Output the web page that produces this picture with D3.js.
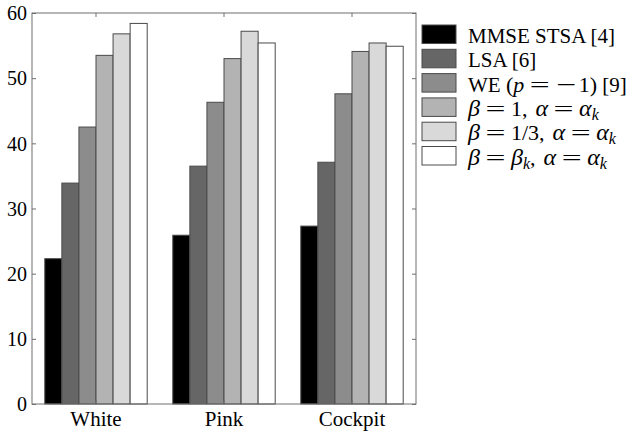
<!DOCTYPE html>
<html>
<head>
<meta charset="utf-8">
<script src="https://cdn.jsdelivr.net/npm/d3@7"></script>
<style>
  body { margin: 0; background: #fff; }
  text { font-family: "Liberation Serif", "Times New Roman", serif; fill: #000; white-space: pre; }
</style>
</head>
<body>
<div id="chart"></div>
<script>
// noise types on the x axis
var categories = ["White", "Pink", "Cockpit"];

// one array per method, values in the order of categories
var series = ["mmse", "lsa", "we", "b1", "b13", "bk"];
var mmse = [22.3, 25.9, 27.3];
var lsa  = [33.9, 36.5, 37.1];
var we   = [42.5, 46.3, 47.6];
var b1   = [53.5, 53.0, 54.1];
var b13  = [56.8, 57.2, 55.4];
var bk   = [58.4, 55.4, 54.9];
var values = [mmse, lsa, we, b1, b13, bk];

var fills = ["#000000", "#666666", "#8c8c8c", "#b3b3b3", "#d9d9d9", "#ffffff"];

// legend labels as [text, kind] pieces:
// "" text, "i" math italic, "g" greek italic, "m" math upright, "c" math comma,
// "o" relation, "u" unary minus, "s" subscript
var legendLabels = [
  [["MMSE STSA [4]", ""]],
  [["LSA [6]", ""]],
  [["WE ", ""], ["(", "m"], ["p", "i"], ["=", "o"], ["\u2212", "u"], ["1)", "m"], [" [9]", ""]],
  [["\u03b2", "g"], ["=", "o"], ["1", "m"], [",", "c"], ["\u03b1", "g"], ["=", "o"], ["\u03b1", "g"], ["k", "s"]],
  [["\u03b2", "g"], ["=", "o"], ["1/3", "m"], [",", "c"], ["\u03b1", "g"], ["=", "o"], ["\u03b1", "g"], ["k", "s"]],
  [["\u03b2", "g"], ["=", "o"], ["\u03b2", "g"], ["k", "s"], [",", "c"], ["\u03b1", "g"], ["=", "o"], ["\u03b1", "g"], ["k", "s"]]
];

var yTicks = [0, 10, 20, 30, 40, 50, 60];

var width = 628, height = 434;
var pLeft = 32, pTop = 13, pRight = 416, pBottom = 404;

var svg = d3.select("#chart").append("svg")
  .attr("width", width)
  .attr("height", height);

var x = d3.scaleBand()
  .domain(categories)
  .range([pLeft, pRight])
  .paddingInner(0.2)
  .paddingOuter(0.1);

var xs = d3.scaleBand()
  .domain(series)
  .range([0, x.bandwidth()]);

var y = d3.scaleLinear()
  .domain([0, 60])
  .range([pBottom, pTop]);

// bars
var groups = svg.append("g").selectAll("g")
  .data(categories)
  .enter()
  .append("g")
  .attr("transform", function(d) { return "translate(" + x(d) + ",0)"; });

groups.selectAll("rect")
  .data(function(d, i) {
    return series.map(function(s, j) { return {s: s, v: values[j][i], j: j}; });
  })
  .enter()
  .append("rect")
  .attr("x", function(d) { return xs(d.s); })
  .attr("y", function(d) { return y(d.v); })
  .attr("width", xs.bandwidth())
  .attr("height", function(d) { return y(0) - y(d.v); })
  .style("fill", function(d) { return fills[d.j]; })
  .style("stroke", "#4a4a4a")
  .style("stroke-width", 1);

// axes, matlab style: box all round, ticks pointing in
var tick = 4;
var axisColor = "#6e6e6e";

var yAxis = svg.append("g")
  .attr("transform", "translate(" + pLeft + ",0)")
  .call(d3.axisLeft(y).tickValues(yTicks).tickSize(-tick).tickPadding(5));
yAxis.selectAll("text").style("font-size", "20px").attr("dy", "0.34em");

var yAxisR = svg.append("g")
  .attr("transform", "translate(" + pRight + ",0)")
  .call(d3.axisRight(y).tickValues(yTicks).tickSize(-tick).tickFormat(""));

var xAxis = svg.append("g")
  .attr("transform", "translate(0," + pBottom + ")")
  .call(d3.axisBottom(x).tickSize(-tick).tickPadding(8));
xAxis.selectAll("text").style("font-size", "21px").attr("dy", "0.67em");

var xAxisT = svg.append("g")
  .attr("transform", "translate(0," + pTop + ")")
  .call(d3.axisTop(x).tickSize(-tick).tickFormat(""));

[yAxis, yAxisR, xAxis, xAxisT].forEach(function(a) {
  a.select(".domain").remove();
  a.selectAll(".tick line").style("stroke", axisColor);
});

svg.append("rect")
  .attr("x", pLeft)
  .attr("y", pTop)
  .attr("width", pRight - pLeft)
  .attr("height", pBottom - pTop)
  .style("fill", "none")
  .style("stroke", axisColor)
  .style("stroke-width", 1);

// legend
var legend = svg.append("g")
  .selectAll("g")
  .data(legendLabels)
  .enter()
  .append("g")
  .attr("transform", function(d, i) { return "translate(422," + (25 + i * 24.3) + ")"; });

legend.append("rect")
  .attr("width", 34)
  .attr("height", 18.5)
  .style("fill", function(d, i) { return fills[i]; })
  .style("stroke", "#4a4a4a")
  .style("stroke-width", 1);

// lay the pieces out one by one so "=" and minus can be made latex-wide
var opW = 20, opPad = 5.5;
var sizes = {"": "21px", i: "22px", g: "24px", m: "22px", c: "22px", o: "22px", u: "22px", s: "16px"};
legend.each(function(parts) {
  var g = d3.select(this);
  var cx = 46;
  parts.forEach(function(p) {
    var kind = p[1];
    var t = g.append("text").attr("y", kind === "s" ? 22 : 18).text(p[0]);
    t.style("font-size", sizes[kind]);
    if (kind === "i" || kind === "g" || kind === "s") t.style("font-style", "italic");
    var w = t.node().getComputedTextLength();
    if (kind === "o" || kind === "u") {
      var padL = kind === "o" ? opPad : 1, padR = kind === "o" ? opPad : 2.5;
      cx += padL;
      t.attr("transform", "translate(" + cx + ",0) scale(" + (opW / w) + ",1)");
      cx += opW + padR;
    } else {
      t.attr("x", cx);
      cx += w + (kind === "c" ? 8 : 0);
    }
  });
});
</script>
</body>
</html>
